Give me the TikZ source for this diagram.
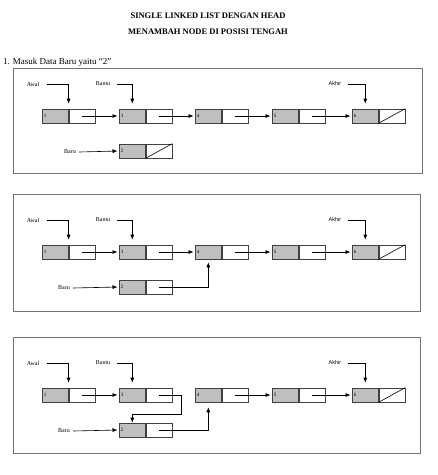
\documentclass[tikz,border=0pt]{standalone}
\usepackage{fontspec}
\setmainfont{Liberation Serif}
\setsansfont{Liberation Sans}
\usetikzlibrary{positioning,arrows.meta}

\tikzset{
  datacell/.style={draw=black!75, fill=black!25, line width=0.6pt, minimum height=14pt,
    text width=23pt, inner xsep=1.5pt, inner ysep=0pt, align=left,
    font=\fontsize{5}{6}\selectfont},
  ptrcell/.style={draw=black!75, fill=white, line width=0.6pt, minimum height=14pt,
    minimum width=26pt, inner sep=0pt},
  lbl/.style={font=\fontsize{6}{7}\selectfont, inner sep=1pt},
  link/.style={-{Latex[length=5pt,width=4pt]}, line width=0.6pt},
  panel/.style={draw=black!55, line width=0.8pt}
}

\begin{document}
\begin{tikzpicture}[x=1pt,y=-1pt]
    \useasboundingbox (0,0) rectangle (438,475);

    % Heading
    \node[font=\bfseries\fontsize{8.5}{10}\selectfont] (judul) at (208,16) {SINGLE LINKED LIST DENGAN HEAD};
    \node[font=\bfseries\fontsize{8.5}{10}\selectfont] (subjudul) at (208,32) {MENAMBAH NODE DI POSISI TENGAH};
    \node[anchor=west, inner sep=0pt, font=\fontsize{9}{10}\selectfont] (langkah) at (3,62) {1. Masuk Data Baru yaitu “2”};

    % Common part of the three panels
    \foreach \pn/\ytop/\ybot/\xr/\yrow/\ynew/\xbaru in
        {a/68/173/422/116/151/70, b/194/311/420/252/287/64, c/337/453/420/395/430/64}{
      \draw[panel] (13,\ytop) rectangle (\xr,\ybot);
      % list nodes
      \foreach \v/\x in {1/42,3/119,4/195,5/272,6/352}{
        \node[datacell, anchor=west] (d\pn\v) at (\x,\yrow) {\v};
        \node[ptrcell, right=0pt of d\pn\v] (p\pn\v) {};
      }
      \node[datacell, anchor=west] (d\pn2) at (119,\ynew) {2};
      \node[ptrcell, right=0pt of d\pn2] (p\pn2) {};
      \draw[line width=0.6pt] (p\pn6.south west) -- (p\pn6.north east);
      % pointers
      \node[lbl] (awal\pn) at (33,\yrow-32) {Awal};
      \node[lbl] (bantu\pn) at (103,\yrow-32) {Bantu};
      \node[lbl, font=\sffamily\fontsize{5.5}{6}\selectfont] (akhir\pn) at (335,\yrow-32) {Akhir};
      \node[lbl] (baru\pn) at (\xbaru,\ynew+1) {Baru};
      \draw[link, shorten >=5pt] ([xshift=7pt]awal\pn.east) -| (d\pn1.north east);
      \draw[link, shorten >=5pt] ([xshift=6pt]bantu\pn.east) -| (d\pn3.north);
      \draw[link, shorten >=5pt] ([xshift=6pt]akhir\pn.east) -| (d\pn6.north);
      \draw[link, shorten >=1.5pt] ([xshift=2pt]baru\pn.east) -- (d\pn2.west);
      % links
      \foreach \u/\w in {1/3,4/5,5/6}
        \draw[link, shorten >=1.5pt] (p\pn\u.center) -- (d\pn\w.west);
    }

    % Panel 1: new node 2 is still alone
    \draw[link, shorten >=1.5pt] (pa3.center) -- (da4.west);
    \draw[line width=0.6pt] (pa2.south west) -- (pa2.north east);

    % Panel 2: node 2 points to node 4
    \draw[link, shorten >=1.5pt] (pb3.center) -- (db4.west);
    \draw[link, shorten >=3pt] (pb2.center) -| (db4.south);

    % Panel 3: node 3 points to node 2
    \draw[link] (pc3.center) -| ++(22,19) -| (dc2.north);
    \draw[link, shorten >=5pt] (pc2.center) -| (dc4.south);
\end{tikzpicture}
\end{document}
